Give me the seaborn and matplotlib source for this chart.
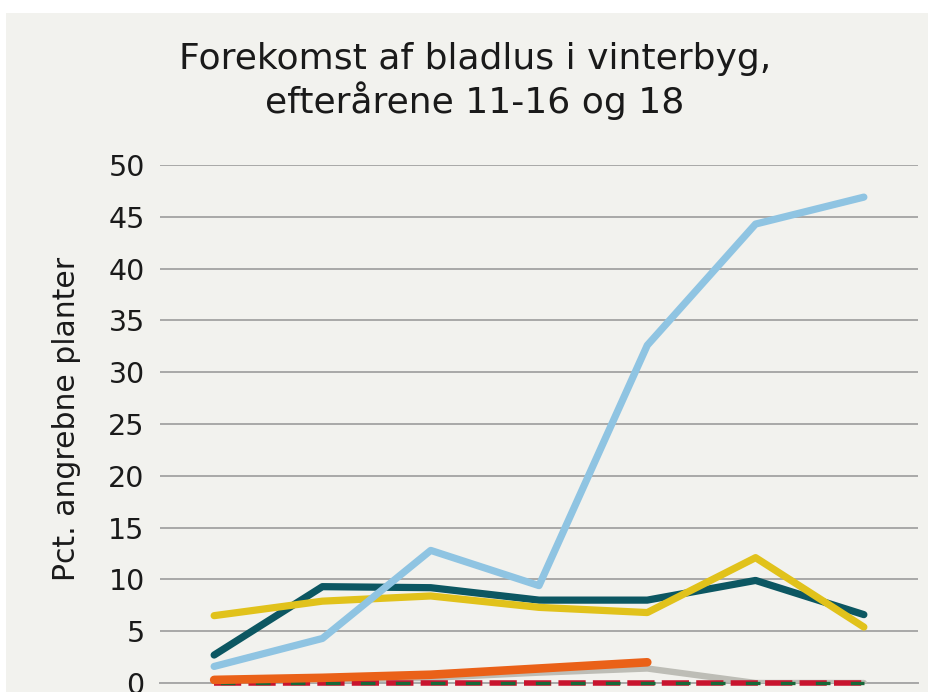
import matplotlib
matplotlib.use("Agg")
import matplotlib.pyplot as plt
import seaborn as sns
import numpy as np
from matplotlib.patches import Rectangle

# ---- data ----
categories = ["1", "2", "3", "4", "5", "6", "7"]
light_blue = [1.6, 4.3, 12.8, 9.4, 32.6, 44.3, 46.9]
dark_teal = [2.7, 9.3, 9.2, 8.0, 8.0, 9.9, 6.6]
yellow = [6.5, 7.9, 8.4, 7.3, 6.8, 12.1, 5.4]
orange = [0.3, 0.5, 0.8, 1.4, 2.0, np.nan, np.nan]
grey = [0.2, 0.3, 0.5, 1.0, 1.4, 0.0, 0.0]
red_green = [0.0, 0.0, 0.0, 0.0, 0.0, 0.0, 0.0]
yticks = [0, 5, 10, 15, 20, 25, 30, 35, 40, 45, 50]
title = "Forekomst af bladlus i vinterbyg,\nefterårene 11-16 og 18"
ylabel = "Pct. angrebne planter"

sns.set_theme(style="white")
plt.rcParams['font.family'] = ['DejaVu Sans']

W, H = 930, 692
fig = plt.figure(figsize=(W / 100, H / 100), dpi=100, facecolor="white")
bg = "#f2f2ee"
fig.patches.append(Rectangle((6 / W, 0), (928 - 6) / W, (H - 13) / H,
                             transform=fig.transFigure, facecolor=bg,
                             edgecolor="none", zorder=-5))

ax = fig.add_axes([160 / W, 9 / H, (918 - 160) / W, (683 - 165) / H])
ax.set_zorder(2)
ax.patch.set_alpha(0)

x = list(range(len(categories)))
lw = 5.2

sns.lineplot(x=x, y=red_green, ax=ax, color="#c8142e", lw=4.0,
             linestyle=(0, (4.9, 1.3)), zorder=3, clip_on=False)
sns.lineplot(x=x, y=red_green, ax=ax, color="#176838", lw=2.4,
             linestyle=(8.6, (4.4, 6.1)), zorder=3.1, clip_on=False)
sns.lineplot(x=x, y=grey, ax=ax, color="#bdbdb6", lw=lw - 0.6, zorder=2.9,
             solid_capstyle="round")
sns.lineplot(x=x, y=orange, ax=ax, color="#ea6118", lw=lw + 1.0, zorder=4,
             solid_capstyle="round", clip_on=False)
sns.lineplot(x=x, y=dark_teal, ax=ax, color="#0c5762", lw=lw, zorder=5,
             solid_capstyle="round")
sns.lineplot(x=x, y=yellow, ax=ax, color="#e1c21b", lw=lw, zorder=6,
             solid_capstyle="round")
sns.lineplot(x=x, y=light_blue, ax=ax, color="#8fc4e2", lw=lw, zorder=7,
             solid_capstyle="round")

ax.set_xlim(-0.5, len(categories) - 0.5)
ax.set_ylim(0, 50)
ax.set_yticks(yticks)
ax.set_yticklabels([str(v) for v in yticks], fontsize=20.5, color="#1a1a1a")
ax.yaxis.grid(True, color="#a8a8a8", lw=1.4)
ax.set_axisbelow(True)
ax.tick_params(axis="y", length=0, pad=11)
ax.set_xticks(np.arange(-0.5, len(categories), 1.0))
ax.set_xticklabels([])
ax.tick_params(axis="x", length=12, width=1.4, color="#a8a8a8", direction="out")
for s in ["top", "right", "left"]:
    ax.spines[s].set_visible(False)
ax.spines["bottom"].set_color("#a8a8a8")
ax.spines["bottom"].set_linewidth(1.4)
ax.set_xlabel("")
ax.set_ylabel(ylabel, fontsize=21.5, color="#1a1a1a")
ax.yaxis.set_label_coords(-0.104, 0.51)

fig.text(475 / W, 1 - 81 / H, title, ha="center", va="center",
         fontsize=26, color="#1a1a1a", linespacing=1.15)

fig.savefig("out.png", dpi=100, facecolor="white")
